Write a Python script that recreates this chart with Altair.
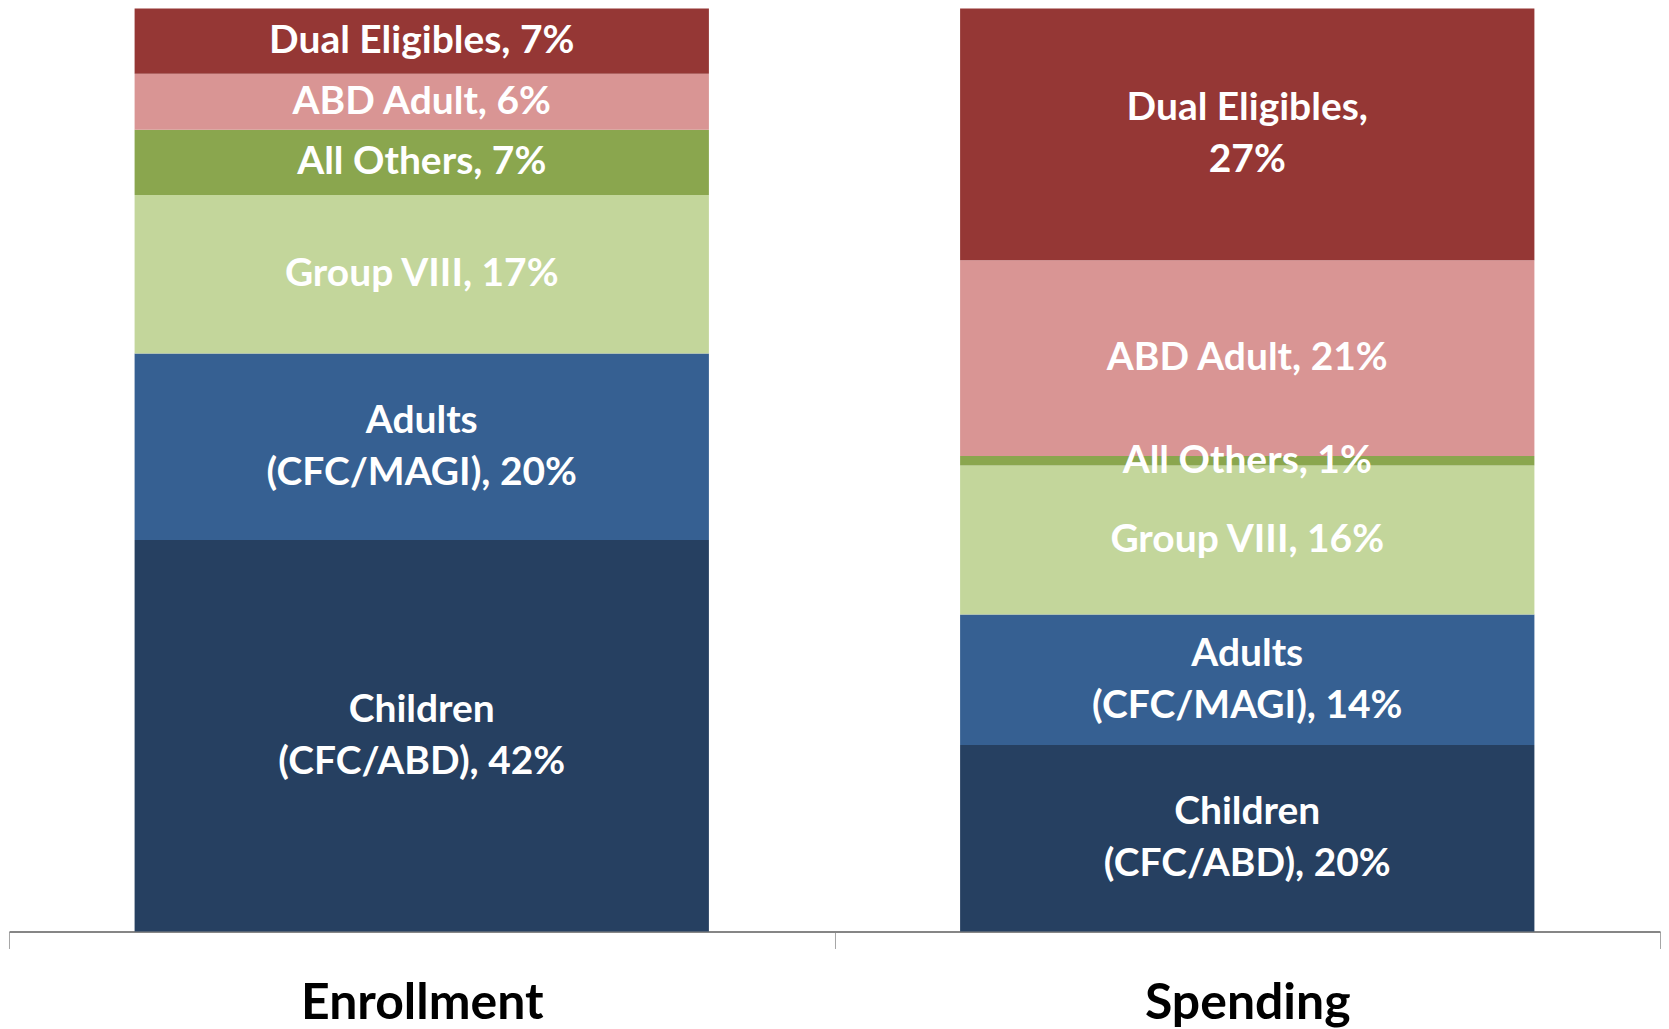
import altair as alt
import pandas as pd

metrics = ["Enrollment"] * 6 + ["Spending"] * 6
groups = ["Children (CFC/ABD)", "Adults (CFC/MAGI)", "Group VIII", "All Others", "ABD Adult", "Dual Eligibles"]
enrollment = [42, 20, 17, 7, 6, 7]
spending = [20, 14, 16, 1, 21, 27]
enroll_labels = ["Children\n(CFC/ABD), 42%", "Adults\n(CFC/MAGI), 20%", "Group VIII, 17%",
                 "All Others, 7%", "ABD Adult, 6%", "Dual Eligibles, 7%"]
spend_labels = ["Children\n(CFC/ABD), 20%", "Adults\n(CFC/MAGI), 14%", "Group VIII, 16%",
                "All Others, 1%", "ABD Adult, 21%", "Dual Eligibles,\n27%"]
colors = ["#264061", "#366092", "#C3D69B", "#8AA64E", "#D99594", "#953735"]

df = pd.DataFrame({
    "metric": metrics,
    "group": groups * 2,
    "value": enrollment + spending,
    "label": enroll_labels + spend_labels,
    "order": list(range(6)) * 2,
})

base = alt.Chart(df).transform_stack(
    stack="value", groupby=["metric"], sort=[alt.SortField(field="order", order="ascending")],
    as_=["y0", "y1"], offset="normalize"
).transform_calculate(mid="(datum.y0 + datum.y1) / 2")

xenc = alt.X(
    "metric:N", sort=["Enrollment", "Spending"],
    scale=alt.Scale(paddingInner=0, paddingOuter=0),
    axis=alt.Axis(title=None, labelAngle=0, labelFont="Lato", labelFontSize=50, labelFontWeight="bold",
                  labelColor="black", labelPadding=30, labelLimit=0, domainColor="#868686", domainWidth=2,
                  tickColor="#a6a6a6", tickWidth=1, tickSize=17, tickBand="extent"),
)

bars = base.mark_bar(size=575).encode(
    x=xenc,
    y=alt.Y("y0:Q", scale=alt.Scale(domain=[0, 1]), axis=None),
    y2="y1:Q",
    color=alt.Color("group:N", scale=alt.Scale(domain=groups, range=colors), legend=None),
)

text_style = dict(lineBreak="\n", font="Lato", fontWeight="bold", fontSize=39, color="white",
                  lineHeight=52, baseline="middle", align="center")
text_enc = dict(x=alt.X("metric:N", sort=["Enrollment", "Spending"]), y=alt.Y("mid:Q"), text="label:N")

text1 = base.transform_filter("indexof(datum.label, '\\n') < 0").mark_text(**text_style).encode(**text_enc)
text2 = base.transform_filter("indexof(datum.label, '\\n') >= 0").mark_text(dy=-26, **text_style).encode(**text_enc)

chart = alt.layer(bars, text1, text2).properties(
    width=1653, height=924, padding=0, background="white"
).configure_view(stroke=None)

chart.save("out.html", embed_options={"renderer": "svg", "actions": False})
